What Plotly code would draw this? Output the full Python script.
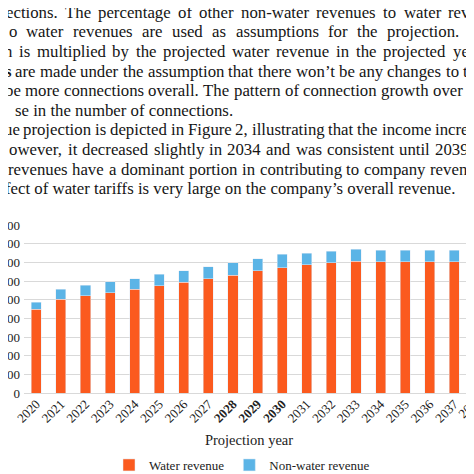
import plotly.graph_objects as go

# values (revenue, stacked)
years = ["2020", "2021", "2022", "2023", "2024", "2025", "2026", "2027", "2028", "2029",
         "2030", "2031", "2032", "2033", "2034", "2035", "2036", "2037", "2038"]
water = [449, 503, 520, 537, 556, 574, 594, 611, 631, 654,
         672, 686, 697, 706, 704, 704, 704, 704, 704]
non_water = [38, 53, 56, 60, 57, 61, 60, 65, 68, 66,
             70, 64, 62, 64, 61, 61, 61, 61, 61]
y_ticks = [0, 100, 200, 300, 400, 500, 600, 700, 800, 900]
bold_years = ["2028", "2029", "2030"]

# paragraph above the chart (page is cropped, so lines are cut at both sides)
para_lines = [
    "ections. The percentage of other non-water revenues to water reve",
    "o water revenues are used as assumptions for the projection. <b>T</b>",
    "n is multiplied by the projected water revenue in the projected yea",
    "<b>s</b> are made under the assumption that there won’t be any changes to th",
    "be more connections overall. The pattern of connection growth over p",
    "se in the number of connections.",
    "ue projection is depicted in Figure 2, illustrating that the income increa",
    "owever, it decreased slightly in 2034 and was consistent until 2039.",
    "revenues have a dominant portion in contributing to company revenu",
    "fect of water tariffs is very large on the company’s overall revenue.",
]
para_start = [-1.5, 1.5, -3.5, -2.5, -2.5, 8, -3.5, 2, 1, -2.5]
para_end = [470, 472, 469, 469, 469, None, 469, 466, 469, None]  # None = not justified

# the page body adds an 8px offset; the figure runs a bit past the bottom/right
# edge. The paper area is the whole height, the bars get a y-domain inside it.
OFF = 8
W, H = 474, 490
ML, MR = 16, 8
PW = W - ML - MR
BAR_TOP, BAR_BOTTOM = 225, 393  # on screen
FS = 16.8
LINE_GAP = 19.6
TX, TY = 6, 4  # nudge for the paragraph text, found by comparing renders
SERIF = "Liberation Serif, Times New Roman, serif"

# Times metrics (per 1000 em) to justify the lines roughly like the page
CW = {" ": 250, ",": 250, ".": 250, "-": 333, "’": 333, "T": 611, "F": 556,
      "a": 444, "b": 500, "c": 444, "d": 500, "e": 444, "f": 333, "g": 500, "h": 500,
      "i": 278, "j": 278, "k": 500, "l": 278, "m": 778, "n": 500, "o": 500, "p": 500,
      "q": 500, "r": 333, "s": 389, "t": 278, "u": 500, "v": 500, "w": 722, "x": 500,
      "y": 500, "z": 444}


def text_w(s):
    s = s.replace("<b>", "").replace("</b>", "")
    return sum(CW.get(c, 500) for c in s) / 1000 * FS


# screen pixel -> paper coords
def px_x(p):
    return (p - OFF - ML) / PW


def px_y(p):
    return (H - (p - OFF)) / H


annotations = []
for k, line in enumerate(para_lines):
    base = 14 + LINE_GAP * k
    yc = px_y(base - 0.3375 * FS + TY)
    words = line.split(" ")
    if para_end[k] is None:
        pieces = [(para_start[k], line)]
    else:
        total = sum(text_w(w) for w in words)
        gap = (para_end[k] - para_start[k] - total) / (len(words) - 1)
        pieces = []
        x = para_start[k]
        for w in words:
            pieces.append((x, w))
            x += text_w(w) + gap
    for x, t in pieces:
        annotations.append(dict(
            text=t, x=px_x(x + TX), y=yc, xref="paper", yref="paper",
            xanchor="left", yanchor="middle", showarrow=False, borderpad=0,
            font=dict(family=SERIF, size=FS, color="#151515")))

# label of the 2038 bar, cut by the page edge
annotations.append(dict(
    text="2038", x=px_x(486), y=px_y(391), xref="paper", yref="paper",
    xanchor="right", yanchor="top", showarrow=False, textangle=-45, borderpad=0,
    font=dict(family=SERIF, size=13, color="#222222")))

tick_text = ["<b>%s</b>" % y if y in bold_years else y for y in years]

fig = go.Figure()
fig.add_trace(go.Bar(x=years, y=water, name="Water revenue", marker_color="#FB5A1E"))
fig.add_trace(go.Bar(x=years, y=non_water, name="Non-water revenue", marker_color="#5BB4E6"))

fig.update_layout(
    width=W, height=H,
    margin=dict(l=ML, r=MR, t=0, b=0),
    barmode="stack", bargap=0.59,
    paper_bgcolor="white", plot_bgcolor="white",
    font=dict(family=SERIF, color="#222222"),
    showlegend=True,
    legend=dict(orientation="h", traceorder="normal",
                x=px_x(242), xanchor="center", y=px_y(465), yanchor="middle",
                font=dict(family=SERIF, size=13, color="#222222"), itemwidth=30),
    annotations=annotations,
)
fig.update_xaxes(
    type="category", range=[-0.5, 17.8], automargin=False,
    tickvals=years, ticktext=tick_text, tickangle=-45,
    tickfont=dict(family=SERIF, size=13, color="#222222"),
    showgrid=False, showline=False, ticks="",
    title=dict(text="Projection year", font=dict(family=SERIF, size=14.5, color="#222222"),
               standoff=10),
)
fig.update_yaxes(
    range=[0, 900], tickvals=y_ticks, automargin=False,
    domain=[px_y(BAR_BOTTOM), px_y(BAR_TOP)],
    tickfont=dict(family=SERIF, size=13, color="#222222"),
    showgrid=True, gridcolor="#d9d9d9", gridwidth=1,
    zeroline=True, zerolinecolor="#d9d9d9", zerolinewidth=1,
    showline=False, ticks="", ticklabelstandoff=3,
)

fig.write_html("out.html")
